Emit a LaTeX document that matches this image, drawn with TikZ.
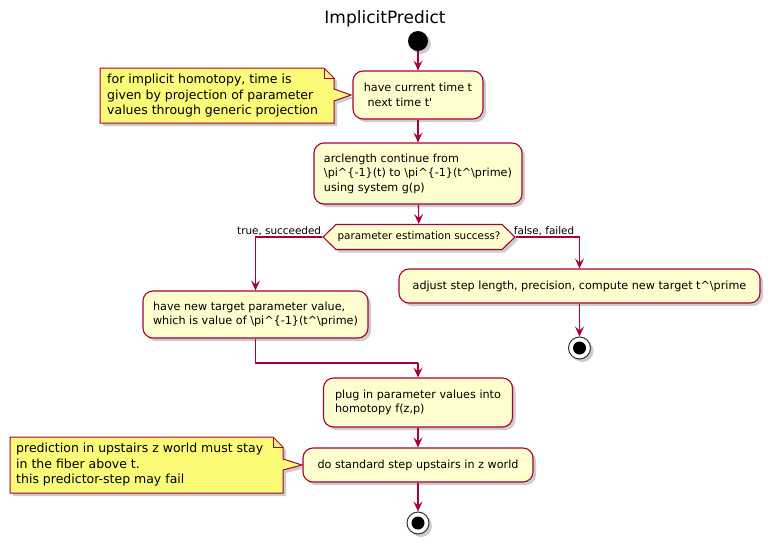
\documentclass[tikz,border=0pt]{standalone}
\usepackage{fontspec}
\setmainfont{DejaVu Sans}
\usetikzlibrary{shapes.symbols,shadows,arrows.meta}
\definecolor{actfill}{HTML}{FEFECE}
\definecolor{actline}{HTML}{A80036}
\definecolor{notefill}{HTML}{FBFB77}
\newcommand\bsl{\textbackslash}
\newcommand\crt{\textasciicircum}
\tikzset{
  shad/.style={drop shadow={shadow xshift=3pt,shadow yshift=-3pt,fill=black!50,opacity=.4}},
  act/.style={rectangle, rounded corners=10pt, draw=actline, fill=actfill, line width=1.1pt,
    align=left, font=\fontsize{11.2}{14.5}\selectfont, inner sep=0pt, shad},
  dec/.style={signal, signal to=west and east, signal pointer angle=88, draw=actline, fill=actfill,
    line width=1.1pt, font=\fontsize{10.4}{12}\selectfont, inner xsep=0pt, inner ysep=0pt,
    minimum height=25pt, shad},
  notebody/.style={draw=actline, fill=notefill, line width=1pt, shad},
  notetext/.style={align=left, font=\fontsize{12.5}{15.5}\selectfont, inner sep=0pt, anchor=west},
  lbl/.style={font=\fontsize{10.4}{12}\selectfont, inner sep=0pt},
  startdot/.style={circle, fill=black, minimum size=20pt, inner sep=0pt, shad},
  stopdot/.style={circle, draw=black!80, fill=white, line width=1pt, minimum size=22pt, inner sep=0pt, shad},
  flow/.style={draw=actline, line width=1.1pt, -{Stealth[length=10pt,width=9pt,inset=4pt]}},
  conn/.style={draw=actline, line width=1.1pt},
}
\begin{document}
\begin{tikzpicture}[x=1pt,y=-1pt]
\useasboundingbox (0,0) rectangle (772,544);
\fill[white] (0,0) rectangle (772,544);

\node[font=\fontsize{17}{20}\selectfont, inner sep=0pt] (title) at (385,19) {ImplicitPredict};

\node[startdot] (start) at (418,41) {};

\node[act, minimum width=130pt, minimum height=48pt] (b1) at (418,95)
  {have current time t\\\hspace*{0.33em}next time t\textquotesingle};

\node[act, minimum width=208pt, minimum height=61pt] (b2) at (418,173.5)
  {arclength continue from\\\bsl pi\crt\{-1\}(t) to \bsl pi\crt\{-1\}(t\crt\bsl prime)\\using system g(p)};

\node[dec, minimum width=192pt] (dia) at (419,237) {parameter estimation success?};

\node[act, minimum width=225pt, minimum height=47pt] (b3) at (255.5,314.5)
  {have new target parameter value,\\which is value of \bsl pi\crt\{-1\}(t\crt\bsl prime)};

\node[act, minimum width=361pt, minimum height=34pt] (rb) at (579.5,286)
  {adjust step length, precision, compute new target t\crt\bsl prime};

\node[stopdot] (stop1) at (579.5,348) {};
\fill[black] (stop1.center) circle (6.5);

\coordinate (merge) at (418,363);

\node[act, minimum width=189pt, minimum height=49pt] (b4) at (418,402.5)
  {plug in parameter values into\\homotopy f(z,p)};

\node[act, minimum width=230pt, minimum height=34pt] (b5) at (418,465)
  {do standard step upstairs in z world};

\node[stopdot] (stop2) at (418,523) {};
\fill[black] (stop2.center) circle (6.5);

% notes
\path[notebody] (100,68) -- (324,68) -- (334,78) -- (334,89) -- (351,95) -- (334,101)
  -- (334,123) -- (100,123) -- cycle;
\draw[actline, line width=1pt] (324,68) -- (324,78) -- (334,78);
\node[notetext] (n1) at (107,96)
  {for implicit homotopy, time is\\given by projection of parameter\\values through generic projection};

\path[notebody] (10,437) -- (273,437) -- (283,447) -- (283,459) -- (302,465) -- (283,470)
  -- (283,493) -- (10,493) -- cycle;
\draw[actline, line width=1pt] (273,437) -- (273,447) -- (283,447);
\node[notetext] (n2) at (16,465)
  {prediction in upstairs z world must stay\\in the fiber above t.\\this predictor-step may fail};

% connectors
\draw[flow] (start) -- (b1);
\draw[flow] (b1) -- (b2);
\draw[flow] (b2) -- (dia);
\draw[flow] (dia.west) -| (b3.north);
\draw[flow] (dia.east) -| (rb.north);
\node[lbl, anchor=base east] (tl) at ([xshift=-1pt,yshift=3pt]dia.west) {true, succeeded};
\node[lbl, anchor=base west] (fl) at ([xshift=-2pt,yshift=3pt]dia.east) {false, failed};
\draw[flow] (rb) -- (stop1);
\draw[conn] (b3.south) |- (merge);
\draw[flow] (merge) -- (b4.north);
\draw[flow] (b4) -- (b5);
\draw[flow] (b5) -- (stop2);
\end{tikzpicture}
\end{document}
